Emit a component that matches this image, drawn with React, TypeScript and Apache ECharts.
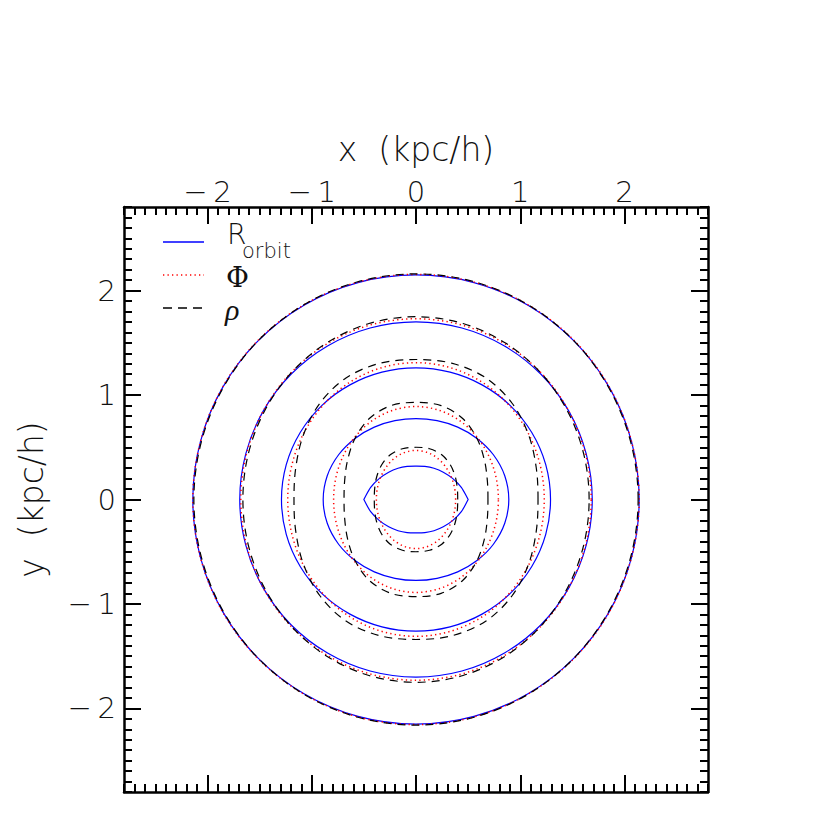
import React, { useEffect, useRef } from "react";
import * as echarts from "echarts";

// Angles (degrees) at which the contour radii were read, first quadrant.
const angleDeg = [0, 15, 30, 45, 60, 75, 90];

// Radii (kpc/h) at those angles; curves are symmetric about both axes.
const orbitRadii = [
  [0.5, 0.45, 0.405, 0.37, 0.345, 0.328, 0.32],
  [0.89, 0.881, 0.857, 0.827, 0.8, 0.781, 0.775],
  [1.29, 1.288, 1.282, 1.275, 1.267, 1.262, 1.26],
  [1.69, 1.69, 1.692, 1.695, 1.697, 1.7, 1.7],
  [2.14, 2.14, 2.142, 2.145, 2.148, 2.15, 2.15],
];
const phiRadii = [
  [0.38, 0.385, 0.398, 0.418, 0.442, 0.462, 0.47],
  [0.79, 0.796, 0.812, 0.836, 0.862, 0.882, 0.89],
  [1.23, 1.235, 1.249, 1.268, 1.289, 1.304, 1.31],
  [1.68, 1.683, 1.692, 1.705, 1.717, 1.727, 1.73],
  [2.14, 2.14, 2.144, 2.148, 2.151, 2.154, 2.155],
];
const rhoRadii = [
  [0.4, 0.41, 0.435, 0.467, 0.494, 0.503, 0.5],
  [0.69, 0.708, 0.757, 0.827, 0.895, 0.93, 0.93],
  [1.17, 1.193, 1.245, 1.303, 1.343, 1.349, 1.34],
  [1.66, 1.666, 1.681, 1.703, 1.726, 1.744, 1.75],
  [2.13, 2.131, 2.136, 2.145, 2.152, 2.158, 2.16],
];

const majorTicks = [-2, -1, 0, 1, 2];
const axisMin = -2.8;
const axisMax = 2.8;
const minorTicks: number[] = [];
for (let i = -28; i <= 28; i++) minorTicks.push(i / 10);

const FONT = "'DejaVu Sans', sans-serif";
const TEXT_COLOR = "#111";

// A closed, smooth (Catmull-Rom) loop through the given screen points; "corners" stay sharp.
echarts.graphic.registerShape(
  "smoothLoop",
  (echarts.graphic as any).extendShape({
    shape: { points: [] as number[][], corners: [] as number[] },
    buildPath(ctx: any, shape: any) {
      const p: number[][] = shape.points;
      const n = p.length;
      if (n < 3) return;
      const corners: number[] = shape.corners || [];
      const tangent = (i: number, forward: boolean) => {
        const cur = p[i];
        if (corners.indexOf(i) >= 0) {
          const o = forward ? p[(i + 1) % n] : p[(i - 1 + n) % n];
          const s = forward ? 1 : -1;
          return [((o[0] - cur[0]) / 3) * s, ((o[1] - cur[1]) / 3) * s];
        }
        const a = p[(i - 1 + n) % n];
        const b = p[(i + 1) % n];
        return [(b[0] - a[0]) / 6, (b[1] - a[1]) / 6];
      };
      ctx.moveTo(p[0][0], p[0][1]);
      for (let i = 0; i < n; i++) {
        const j = (i + 1) % n;
        const t1 = tangent(i, true);
        const t2 = tangent(j, false);
        ctx.bezierCurveTo(
          p[i][0] + t1[0], p[i][1] + t1[1],
          p[j][0] - t2[0], p[j][1] - t2[1],
          p[j][0], p[j][1]
        );
      }
      ctx.closePath();
    },
  })
);

// Closed loop of points (no duplicated end point), mirrored into all four quadrants.
function closedCurve(radii: number[]): number[][] {
  const pts: number[][] = [];
  const step = angleDeg[1] - angleDeg[0];
  for (let a = 0; a < 360; a += step) {
    const q = a % 180;
    const idx = q <= 90 ? Math.round(q / step) : Math.round((180 - q) / step);
    const r = radii[idx];
    const rad = (a * Math.PI) / 180;
    pts.push([r * Math.cos(rad), r * Math.sin(rad)]);
  }
  return pts;
}

const fmt = (v: number) => (v < 0 ? "\u2212\u2009" + Math.abs(v) : String(v));

function makeAxis(kind: "x" | "y", position: string, major: boolean, labels: boolean) {
  const ax: any = {
    type: "value",
    position,
    min: axisMin,
    max: axisMax,
    gridIndex: 0,
    splitLine: { show: false },
    axisLine: { show: major, onZero: false, lineStyle: { color: "#000", width: 2.5 } },
    axisTick: {
      show: true,
      inside: true,
      length: major ? 17 : 8,
      customValues: major ? majorTicks : minorTicks,
      lineStyle: { color: "#000", width: 2 },
    },
    axisLabel: {
      show: labels,
      customValues: majorTicks,
      formatter: fmt,
      fontSize: 29,
      fontFamily: FONT,
      fontWeight: 200,
      color: TEXT_COLOR,
      margin: kind === "x" ? 1 : 8,
    },
  };
  if (labels) {
    ax.name = kind === "x" ? "x  (kpc/h)" : "y  (kpc/h)";
    ax.nameLocation = "middle";
    ax.nameGap = kind === "x" ? 41 : 76;
    ax.nameTextStyle = { fontSize: 33, fontFamily: FONT, fontWeight: 200, color: TEXT_COLOR };
  }
  return ax;
}

function curveSeries(name: string, radii: number[], style: any, corners: number[] = []) {
  const pts = closedCurve(radii);
  return {
    name,
    type: "custom",
    xAxisIndex: 0,
    yAxisIndex: 0,
    data: pts,
    encode: { x: 0, y: 1 },
    silent: true,
    renderItem: (params: any, api: any) => {
      if (params.dataIndex !== 0) return null;
      const screen = pts.map((pt) => api.coord(pt));
      return {
        type: "smoothLoop",
        shape: { points: screen, corners },
        style: { fill: "none", ...style },
        silent: true,
      };
    },
  };
}

export default function App() {
  const ref = useRef<HTMLDivElement>(null);
  useEffect(() => {
    if (!ref.current) return;
    const chart = echarts.init(ref.current, undefined, { renderer: "svg" });

    const series: any[] = [];
    orbitRadii.forEach((r, i) =>
      series.push(
        curveSeries("R_orbit " + i, r, { stroke: "#0000ff", lineWidth: 1.2 }, i === 0 ? [0, 12] : [])
      )
    );
    phiRadii.forEach((r, i) =>
      series.push(curveSeries("Phi " + i, r, { stroke: "#ff0000", lineWidth: 1.5, lineDash: [1.3, 3.2] }))
    );
    rhoRadii.forEach((r, i) =>
      series.push(curveSeries("rho " + i, r, { stroke: "#000000", lineWidth: 1.2, lineDash: [8, 6] }))
    );

    const legendText = { fill: TEXT_COLOR, fontFamily: FONT, fontWeight: 200 };

    chart.setOption({
      animation: false,
      backgroundColor: "#fff",
      grid: { left: 124, right: 122, top: 207, bottom: 38, containLabel: false },
      xAxis: [
        makeAxis("x", "top", true, true),
        makeAxis("x", "top", false, false),
        makeAxis("x", "bottom", true, false),
        makeAxis("x", "bottom", false, false),
      ],
      yAxis: [
        makeAxis("y", "left", true, true),
        makeAxis("y", "left", false, false),
        makeAxis("y", "right", true, false),
        makeAxis("y", "right", false, false),
      ],
      series,
      graphic: [
        { type: "line", shape: { x1: 163, y1: 242, x2: 204, y2: 242 }, style: { stroke: "#0000ff", lineWidth: 1.5 } },
        { type: "line", shape: { x1: 163, y1: 275, x2: 204, y2: 275 }, style: { stroke: "#ff0000", lineWidth: 1.5, lineDash: [1.3, 3.2] } },
        { type: "line", shape: { x1: 163, y1: 308, x2: 204, y2: 308 }, style: { stroke: "#000", lineWidth: 1.3, lineDash: [9, 6] } },
        { type: "text", x: 227, y: 234, style: { ...legendText, text: "R", fontSize: 28, verticalAlign: "middle" } },
        { type: "text", x: 242, y: 251, style: { ...legendText, text: "orbit", fontSize: 21, verticalAlign: "middle" } },
        { type: "text", x: 226, y: 277, style: { ...legendText, text: "\u03A6", fontSize: 28, fontFamily: "'DejaVu Serif', serif", verticalAlign: "middle" } },
        { type: "text", x: 225, y: 309, style: { ...legendText, text: "\u03C1", fontSize: 30, fontStyle: "italic", fontFamily: "'Liberation Serif', serif", verticalAlign: "middle" } },
      ],
    });
    return () => chart.dispose();
  }, []);
  return <div ref={ref} style={{ position: "fixed", left: 0, top: 0, width: 830, height: 830 }} />;
}
